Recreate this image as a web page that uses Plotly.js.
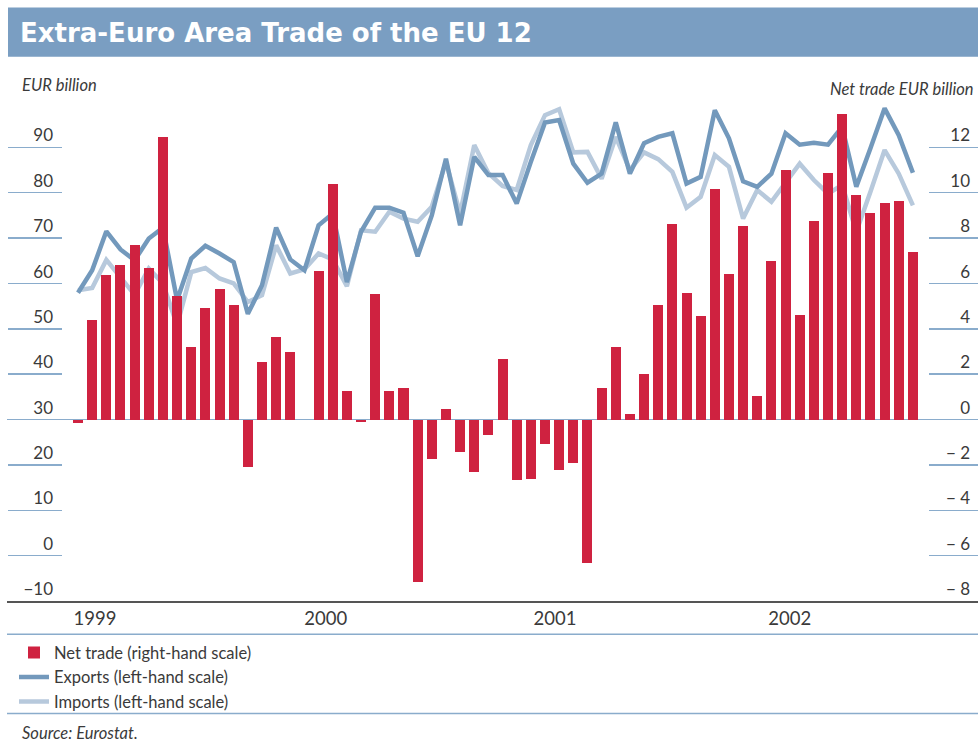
<!DOCTYPE html>
<html>
<head>
<meta charset="utf-8">
<script src="https://cdn.plot.ly/plotly-3.0.1.min.js"></script>
<style>html,body{margin:0;padding:0;background:#fff;}</style>
</head>
<body>
<div id="chart" style="width:978px;height:745px;"></div>
<script>
// ---- data (monthly, 60 observations) ----
const monthIndex = Array.from({length: 60}, (_, i) => i);
const netTrade = [-0.16, 4.37, 6.36, 6.80, 7.68, 6.67, 12.45, 5.43, 3.18, 4.94, 5.74, 5.03,
  -2.10, 2.52, 3.66, 2.96, 0, 6.53, 10.38, 1.28, -0.12, 5.52, 1.24, 1.37,
  -7.18, -1.75, 0.47, -1.44, -2.33, -0.69, 2.69, -2.68, -2.63, -1.09, -2.24, -1.93,
  -6.34, 1.37, 3.18, 0.26, 2.03, 5.03, 8.61, 5.56, 4.55, 10.15, 6.40, 8.52,
  1.02, 6.98, 10.99, 4.59, 8.74, 10.86, 13.47, 9.89, 9.09, 9.54, 9.62, 7.37];
const exportsVal = [57.96, 62.9, 71.5, 67.5, 65.1, 69.9, 72.3, 56.3, 65.5, 68.3, 66.6, 64.7,
  53.3, 59.6, 72.3, 65.3, 62.9, 72.8, 75.4, 60.3, 71.4, 76.7, 76.7, 75.6,
  66.0, 75.0, 87.5, 72.8, 87.9, 83.9, 83.9, 77.6, 86.8, 95.5, 96.0, 86.4,
  82.2, 84.2, 95.5, 84.2, 90.9, 92.3, 93.1, 82.0, 83.5, 98.2, 92.0, 82.5,
  81.3, 84.2, 93.1, 90.6, 91.0, 90.6, 94.5, 81.3, 89.8, 98.6, 92.7, 84.4];
const importsVal = [58.5, 59.0, 65.2, 61.2, 57.5, 63.3, 60.0, 50.8, 62.5, 63.4, 61.1, 60.0,
  55.9, 57.4, 68.4, 62.2, 63.1, 66.6, 65.3, 59.4, 71.7, 71.4, 75.8, 74.3,
  73.6, 76.9, 86.8, 75.4, 90.5, 84.3, 81.5, 80.6, 90.5, 97.1, 98.4, 88.9,
  89.0, 83.1, 92.3, 85.0, 88.9, 87.4, 84.6, 76.7, 79.1, 88.3, 85.7, 74.3,
  80.6, 78.0, 82.2, 86.4, 82.8, 79.8, 81.7, 71.4, 80.2, 89.4, 84.2, 77.2];
const yearLabels = ['1999', '2000', '2001', '2002'];
const yearTickPos = [1.2, 17.5, 33.7, 50.3];
const leftTickVals = [-10, 0, 10, 20, 30, 40, 50, 60, 70, 80, 90, 100];
const leftLabelVals = [-10, 0, 10, 20, 30, 40, 50, 60, 70, 80, 90];
const leftLabelText = ['\u221210', '0', '10', '20', '30', '40', '50', '60', '70', '80', '90'];
const rightTickVals = [-8, -6, -4, -2, 0, 2, 4, 6, 8, 10, 12, 14];
const rightLabelVals = [-8, -6, -4, -2, 0, 2, 4, 6, 8, 10, 12];
const rightLabelText = ['\u2212 8', '\u2212 6', '\u2212 4', '\u2212 2', '0', '2', '4', '6', '8', '10', '12'];

// ---- styling ----
const RED = '#cf2240', EXP = '#7399bc', IMP = '#b7c9dc', RULE = '#8aaccc', TXT = '#3a3a3a';
const FONT = 'Lato, "Open Sans", sans-serif';

const traces = [
  {type: 'bar', x: monthIndex, y: netTrade, yaxis: 'y2', width: 0.707,
   marker: {color: RED, line: {width: 0}}, name: 'Net trade (right-hand scale)', legendrank: 1},
  {type: 'scatter', mode: 'lines', x: monthIndex, y: importsVal, yaxis: 'y',
   line: {color: IMP, width: 4.5}, name: 'Imports (left-hand scale)', legendrank: 3},
  {type: 'scatter', mode: 'lines', x: monthIndex, y: exportsVal, yaxis: 'y',
   line: {color: EXP, width: 4.5}, name: 'Exports (left-hand scale)', legendrank: 2},
  {type: 'scatter', x: [], y: [], yaxis: 'y3', showlegend: false, hoverinfo: 'skip'},
  {type: 'scatter', x: [], y: [], yaxis: 'y4', showlegend: false, hoverinfo: 'skip'}
];

const H = 745, T = 102.3, B = 144.3, PH = H - T - B;
const py = (pix) => (H - B - pix) / PH; // page y pixel -> paper y
const px = (pix) => (pix - 7) / 971;    // page x pixel -> paper x

const layout = {
  width: 978, height: 745,
  margin: {l: 7, r: 0, t: T, b: B, pad: 0},
  paper_bgcolor: '#ffffff', plot_bgcolor: '#ffffff',
  font: {family: FONT, color: TXT},
  title: {text: '<b>Extra-Euro Area Trade of the EU 12</b>', xref: 'container', yref: 'container',
          x: 20 / 978, xanchor: 'left', y: 1 - 33 / 745, yanchor: 'middle',
          font: {family: '"DejaVu Sans", sans-serif', size: 26, color: '#ffffff'}},
  showlegend: true,
  legend: {x: px(14), y: py(635), xanchor: 'left', yanchor: 'top', orientation: 'v',
           font: {family: FONT, size: 16.5, color: TXT}, bgcolor: 'rgba(0,0,0,0)',
           tracegroupgap: 0, itemwidth: 30},
  bargap: 0,
  xaxis: {domain: [0, 1], range: [-5.02, 63.6], showgrid: false, zeroline: false,
          showline: true, linecolor: '#555555', linewidth: 1.5, ticks: '',
          tickmode: 'array', tickvals: yearTickPos, ticktext: yearLabels,
          tickfont: {family: FONT, size: 18.5, color: TXT}, fixedrange: true},
  yaxis: {range: [-10, 100], anchor: 'free', position: 0, side: 'left',
          ticks: 'inside', ticklen: 54, tickwidth: 1.5, tickcolor: RULE,
          tickmode: 'array', tickvals: leftTickVals, showticklabels: false,
          showgrid: false, zeroline: false, showline: false, fixedrange: true},
  yaxis2: {range: [-8, 14], overlaying: 'y', anchor: 'free', position: 1, side: 'right',
           ticks: 'inside', ticklen: 49, tickwidth: 1.5, tickcolor: RULE,
           tickmode: 'array', tickvals: rightTickVals, showticklabels: false,
           showgrid: false, zeroline: true, zerolinecolor: RULE, zerolinewidth: 1.5,
           showline: false, fixedrange: true},
  yaxis3: {range: [-10, 100], overlaying: 'y', anchor: 'free', position: px(53), side: 'left',
           ticks: '', tickmode: 'array', tickvals: leftLabelVals, ticktext: leftLabelText,
           ticklabelposition: 'outside top', tickfont: {family: FONT, size: 17, color: TXT},
           showgrid: false, zeroline: false, showline: false, fixedrange: true},
  yaxis4: {range: [-8, 14], overlaying: 'y', anchor: 'free', position: px(970), side: 'left',
           ticks: '', tickmode: 'array', tickvals: rightLabelVals, ticktext: rightLabelText,
           ticklabelposition: 'outside top', tickfont: {family: FONT, size: 17, color: TXT},
           showgrid: false, zeroline: false, showline: false, fixedrange: true},
  shapes: [
    {type: 'rect', xref: 'paper', yref: 'paper', x0: px(8), x1: 1, y0: py(57), y1: py(8),
     fillcolor: '#7a9ec2', line: {width: 0}, layer: 'below'},
    {type: 'line', xref: 'paper', yref: 'paper', x0: 0, x1: 1, y0: py(634), y1: py(634),
     line: {color: RULE, width: 1.5}},
    {type: 'line', xref: 'paper', yref: 'paper', x0: 0, x1: 1, y0: py(713), y1: py(713),
     line: {color: RULE, width: 1.5}}
  ],
  annotations: [
    {text: 'EUR billion', xref: 'paper', yref: 'paper', x: px(20), y: py(85),
     xanchor: 'left', yanchor: 'middle', showarrow: false,
     font: {family: FONT, size: 16.5, color: TXT, style: 'italic'}},
    {text: 'Net trade EUR billion', xref: 'paper', yref: 'paper', x: px(976), y: py(89),
     xanchor: 'right', yanchor: 'middle', showarrow: false,
     font: {family: FONT, size: 16.5, color: TXT, style: 'italic'}},
    {text: 'Source: Eurostat.', xref: 'paper', yref: 'paper', x: px(20), y: py(733),
     xanchor: 'left', yanchor: 'middle', showarrow: false,
     font: {family: FONT, size: 16.5, color: TXT, style: 'italic'}}
  ]
};

Plotly.newPlot('chart', traces, layout, {staticPlot: true, displayModeBar: false});
</script>
</body>
</html>
